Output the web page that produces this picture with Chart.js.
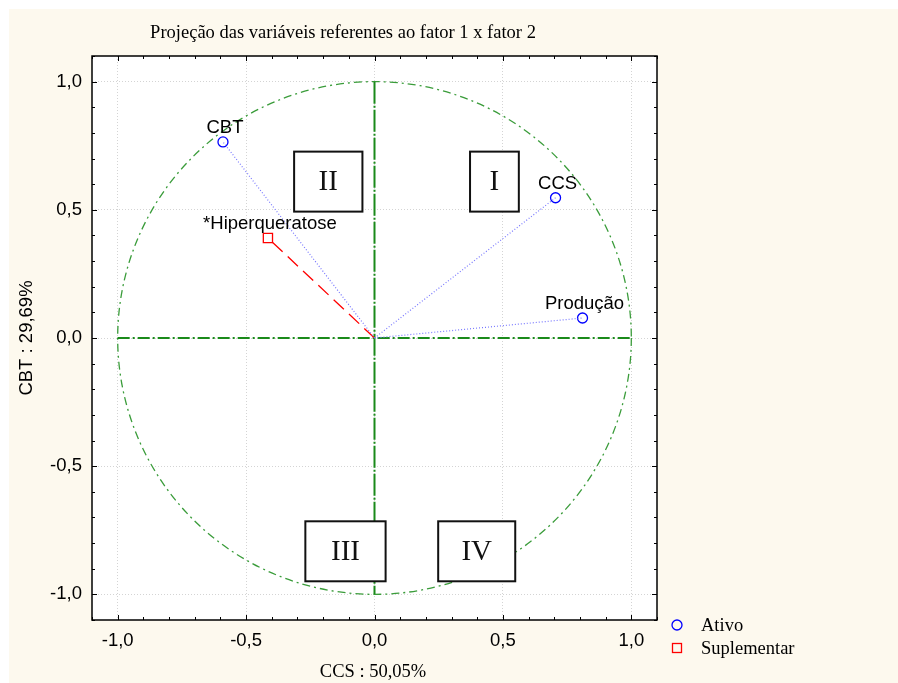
<!DOCTYPE html>
<html>
<head>
<meta charset="utf-8">
<script src="https://cdn.jsdelivr.net/npm/chart.js@4.4.0/dist/chart.umd.min.js"></script>
<style>
  html, body { margin: 0; padding: 0; background: #fff; }
  #wrap { width: 898px; height: 683px; position: relative; }
</style>
</head>
<body>
<div id="wrap"><canvas id="chart"></canvas></div>
<script>
// data
const activeNames = ['CBT', 'CCS', 'Produção'];
const activeX = [-0.59, 0.705, 0.81];
const activeY = [0.765, 0.547, 0.078];
const supNames = ['*Hiperqueratose'];
const supX = [-0.415];
const supY = [0.39];
const tickValues = [-1.0, -0.5, 0.0, 0.5, 1.0];
const titleText = 'Projeção das variáveis referentes ao fator 1 x fator 2';
const xTitle = 'CCS : 50,05%';
const yTitle = 'CBT : 29,69%';
const legendLabels = ['Ativo', 'Suplementar'];
const quadrantLabels = ['I', 'II', 'III', 'IV'];

// layout of the quadrant boxes (axis units: centre x, centre y, width, height)
const quadrantBoxes = [
  [0.467, 0.61, 0.19, 0.234],
  [-0.18, 0.61, 0.266, 0.234],
  [-0.113, -0.832, 0.3125, 0.234],
  [0.398, -0.832, 0.30, 0.234]
];

const SANS = '"Liberation Sans", Arial, sans-serif';
const SERIF = '"Liberation Serif", "Times New Roman", serif';
const fmt = v => (Math.abs(v) < 1e-9 ? 0 : v).toFixed(1).replace('.', ',');

const pts = (xs, ys) => xs.map((x, i) => ({ x: x, y: ys[i] }));

const datasets = [];
// rays from origin
activeX.forEach((x, i) => {
  datasets.push({
    data: [{ x: 0, y: 0 }, { x: x, y: activeY[i] }],
    showLine: true, borderColor: '#7878ff', borderWidth: 1.2, borderDash: [1, 2],
    pointRadius: 0, fill: false
  });
});
supX.forEach((x, i) => {
  datasets.push({
    data: [{ x: 0, y: 0 }, { x: x, y: supY[i] }],
    showLine: true, borderColor: '#ff0000', borderWidth: 1.3, borderDash: [14, 7],
    pointRadius: 0, fill: false
  });
});
datasets.push({
  label: 'Ativo', names: activeNames,
  data: pts(activeX, activeY),
  pointStyle: 'circle', pointRadius: 5, pointBorderColor: '#0000ff',
  pointBackgroundColor: 'rgba(255,255,255,0)', pointBorderWidth: 1.3, showLine: false
});
datasets.push({
  label: 'Suplementar', names: supNames,
  data: pts(supX, supY),
  pointStyle: 'rect', pointRadius: 6.5, pointBorderColor: '#ff0000',
  pointBackgroundColor: 'rgba(255,255,255,0)', pointBorderWidth: 1.3, showLine: false
});

const decor = {
  id: 'decor',
  beforeDraw(chart) {
    const { ctx, chartArea: a } = chart;
    ctx.save();
    ctx.fillStyle = '#ffffff';
    ctx.fillRect(0, 0, chart.width, chart.height);
    ctx.fillStyle = '#fdf9ee';
    ctx.fillRect(9, 9, chart.width - 9, chart.height - 9);
    ctx.fillStyle = '#ffffff';
    ctx.fillRect(a.left, a.top, a.right - a.left, a.bottom - a.top);
    ctx.restore();
  },
  beforeDatasetsDraw(chart) {
    const { ctx } = chart;
    const xs = chart.scales.x, ys = chart.scales.y;
    const cx = xs.getPixelForValue(0), cy = ys.getPixelForValue(0);
    // unit circle
    ctx.save();
    ctx.strokeStyle = '#3a9c3a';
    ctx.lineWidth = 1.3;
    ctx.setLineDash([8, 4, 2, 4]);
    ctx.beginPath();
    ctx.ellipse(cx, cy, xs.getPixelForValue(1) - cx, cy - ys.getPixelForValue(1), 0, 0, Math.PI * 2);
    ctx.stroke();
    // axes through origin
    ctx.strokeStyle = '#1a8a1a';
    ctx.lineWidth = 2;
    ctx.setLineDash([12, 3, 2, 3]);
    ctx.beginPath();
    ctx.moveTo(xs.getPixelForValue(-1), cy);
    ctx.lineTo(xs.getPixelForValue(1), cy);
    ctx.stroke();
    ctx.setLineDash([22, 2, 2, 2]);
    ctx.beginPath();
    ctx.moveTo(cx, ys.getPixelForValue(1));
    ctx.lineTo(cx, ys.getPixelForValue(-1));
    ctx.stroke();
    // quadrant boxes
    ctx.setLineDash([]);
    quadrantBoxes.forEach((b, i) => {
      const l = xs.getPixelForValue(b[0] - b[2] / 2), r = xs.getPixelForValue(b[0] + b[2] / 2);
      const t = ys.getPixelForValue(b[1] + b[3] / 2), bt = ys.getPixelForValue(b[1] - b[3] / 2);
      ctx.fillStyle = '#ffffff';
      ctx.fillRect(l, t, r - l, bt - t);
      ctx.strokeStyle = '#111';
      ctx.lineWidth = 2;
      ctx.strokeRect(l, t, r - l, bt - t);
      ctx.fillStyle = '#111';
      ctx.font = '29px ' + SERIF;
      ctx.textAlign = 'center';
      ctx.textBaseline = 'middle';
      ctx.fillText(quadrantLabels[i], (l + r) / 2, (t + bt) / 2 + 1);
    });
    ctx.restore();
  },
  afterDatasetsDraw(chart) {
    const { ctx, chartArea: a } = chart;
    const xs = chart.scales.x, ys = chart.scales.y;
    ctx.save();
    // point labels
    ctx.font = '18.5px ' + SANS;
    ctx.fillStyle = '#000';
    ctx.textAlign = 'center';
    ctx.textBaseline = 'bottom';
    chart.data.datasets.forEach((ds, di) => {
      if (!ds.names) return;
      chart.getDatasetMeta(di).data.forEach((el, j) => {
        ctx.fillText(ds.names[j], el.x + 2, el.y - 5);
      });
    });
    // frame
    ctx.strokeStyle = '#000';
    ctx.lineWidth = 1.5;
    ctx.strokeRect(a.left, a.top, a.right - a.left, a.bottom - a.top);
    // inward tick marks every 0.1
    ctx.lineWidth = 1;
    for (let i = -11; i <= 11; i++) {
      const v = i / 10;
      const len = i % 5 === 0 ? 5 : 3;
      const px = Math.round(xs.getPixelForValue(v)) + 0.5;
      const py = Math.round(ys.getPixelForValue(v)) + 0.5;
      ctx.beginPath();
      ctx.moveTo(px, a.bottom); ctx.lineTo(px, a.bottom - len);
      ctx.moveTo(px, a.top); ctx.lineTo(px, a.top + len);
      ctx.moveTo(a.left, py); ctx.lineTo(a.left + len, py);
      ctx.moveTo(a.right, py); ctx.lineTo(a.right - len, py);
      ctx.stroke();
    }
    ctx.restore();
  },
  afterDraw(chart) {
    const { ctx } = chart;
    ctx.save();
    ctx.fillStyle = '#000';
    // title
    ctx.font = '18.5px ' + SERIF;
    ctx.textAlign = 'center';
    ctx.textBaseline = 'middle';
    ctx.fillText(titleText, 343, 33);
    // x title
    ctx.fillText(xTitle, 373, 672);
    // y title
    ctx.save();
    ctx.translate(27, 338);
    ctx.rotate(-Math.PI / 2);
    ctx.font = '18.5px ' + SANS;
    ctx.fillText(yTitle, 0, 0);
    ctx.restore();
    // legend
    ctx.textAlign = 'left';
    ctx.font = '18.5px ' + SERIF;
    ctx.lineWidth = 1.3;
    ctx.strokeStyle = '#0000ff';
    ctx.beginPath();
    ctx.arc(677, 625, 5, 0, Math.PI * 2);
    ctx.stroke();
    ctx.fillText(legendLabels[0], 701, 626);
    ctx.strokeStyle = '#ff0000';
    ctx.strokeRect(672.5, 643.5, 9, 9);
    ctx.fillText(legendLabels[1], 701, 649);
    ctx.restore();
  }
};

new Chart(document.getElementById('chart'), {
  type: 'scatter',
  data: { datasets: datasets },
  options: {
    responsive: true,
    maintainAspectRatio: false,
    animation: false,
    layout: { padding: { left: 0, top: 56, right: 241, bottom: 0 } },
    plugins: { legend: { display: false }, tooltip: { enabled: false }, title: { display: false } },
    scales: {
      x: {
        type: 'linear', min: -1.1, max: 1.1,
        afterFit: s => { s.height = 63; },
        afterBuildTicks: s => { s.ticks = tickValues.map(v => ({ value: v })); },
        ticks: { callback: fmt, padding: 10, color: '#000', font: { family: SANS, size: 18.5 } },
        grid: { color: '#d4d4d4', lineWidth: 1, drawTicks: false },
        border: { display: false, dash: [1, 2] }
      },
      y: {
        type: 'linear', min: -1.1, max: 1.1,
        afterFit: s => { s.width = 92; },
        afterBuildTicks: s => { s.ticks = tickValues.map(v => ({ value: v })); },
        ticks: { callback: fmt, padding: 10, color: '#000', font: { family: SANS, size: 18.5 } },
        grid: { color: '#d4d4d4', lineWidth: 1, drawTicks: false },
        border: { display: false, dash: [1, 2] }
      }
    }
  },
  plugins: [decor]
});
</script>
</body>
</html>
